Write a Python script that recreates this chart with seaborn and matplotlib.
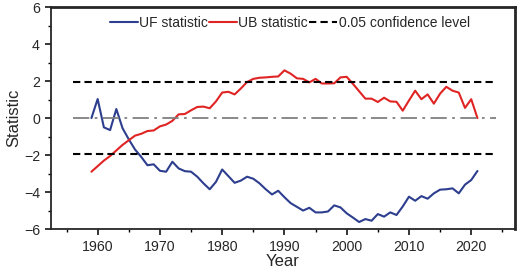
import matplotlib
matplotlib.use("Agg")
import matplotlib.pyplot as plt
from matplotlib.ticker import MultipleLocator
import numpy as np
import pandas as pd
import seaborn as sns

# --- data ---
years = list(range(1959, 2022))
uf = [0.00, 1.03, -0.50, -0.65, 0.49, -0.55, -1.15, -1.70, -2.10, -2.55,
      -2.50, -2.85, -2.90, -2.36, -2.72, -2.87, -2.90, -3.17, -3.53, -3.85,
      -3.45, -2.78, -3.14, -3.50, -3.38, -3.17, -3.28, -3.53, -3.85, -4.13,
      -3.93, -4.28, -4.60, -4.80, -5.00, -4.85, -5.10, -5.10, -5.05, -4.72,
      -4.83, -5.15, -5.38, -5.62, -5.46, -5.55, -5.19, -5.33, -5.10, -5.24,
      -4.78, -4.25, -4.47, -4.22, -4.36, -4.07, -3.87, -3.85, -3.80, -4.07,
      -3.60, -3.35, -2.86]
ub = [-2.90, -2.60, -2.30, -2.05, -1.75, -1.45, -1.20, -0.95, -0.85, -0.70,
      -0.67, -0.45, -0.35, -0.15, 0.20, 0.22, 0.42, 0.60, 0.62, 0.53,
      0.90, 1.38, 1.42, 1.28, 1.60, 1.95, 2.12, 2.18, 2.20, 2.23,
      2.25, 2.58, 2.40, 2.15, 2.12, 1.93, 2.12, 1.87, 1.87, 1.88,
      2.20, 2.23, 1.85, 1.45, 1.05, 1.05, 0.87, 1.10, 0.90, 0.88,
      0.40, 0.95, 1.48, 1.02, 1.28, 0.78, 1.32, 1.69, 1.48, 1.38,
      0.55, 1.02, 0.00]
conf_level = 1.96
line_span = [1956, 2024]

df = pd.DataFrame({"Year": years, "UF statistic": uf, "UB statistic": ub})
long = df.melt(id_vars="Year", var_name="series", value_name="Statistic")

sns.set_style("ticks")
plt.rcParams["font.family"] = ["Liberation Sans", "DejaVu Sans"]

fig = plt.figure(figsize=(5.2, 2.73), dpi=100)
ax = fig.add_axes([0.098, 0.161, 0.892, 0.813])

sns.lineplot(data=long, x="Year", y="Statistic", hue="series",
             palette={"UF statistic": "#2d3e8e", "UB statistic": "#e02424"},
             linewidth=1.5, ax=ax)

# confidence bounds and zero line
ax.plot(line_span, [conf_level, conf_level], color="black", lw=1.5,
        linestyle=(0, (3.5, 2)), label="0.05 confidence level")
ax.plot(line_span, [-conf_level, -conf_level], color="black", lw=1.5,
        linestyle=(0, (3.5, 2)))
ax.plot(line_span, [0, 0], color="#808080", lw=1.3,
        linestyle=(0, (9, 3, 1.5, 3)))

ax.set_xlim(1952.5, 2027)
ax.set_ylim(-6, 6)
ax.xaxis.set_major_locator(MultipleLocator(10))
ax.xaxis.set_minor_locator(MultipleLocator(5))
ax.yaxis.set_major_locator(MultipleLocator(2))
ax.yaxis.set_minor_locator(MultipleLocator(1))
ax.tick_params(which="major", direction="out", length=4.3, width=1.1,
               labelsize=10.2, color="black", pad=3.6)
ax.tick_params(which="minor", direction="out", length=2.2, width=1.0,
               color="black")
ax.set_xlabel("Year", fontsize=12, labelpad=0)
ax.set_ylabel("Statistic", fontsize=12, labelpad=2)

for side in ["left", "bottom"]:
    ax.spines[side].set_linewidth(1.3)
for side in ["top", "right"]:
    ax.spines[side].set_visible(True)
    ax.spines[side].set_linewidth(2.0)

handles, labels = ax.get_legend_handles_labels()
ax.legend(handles, labels, ncol=3, frameon=False, fontsize=10,
          loc="center", bbox_to_anchor=(0.515, 0.928),
          handlelength=2.0, handletextpad=0.1, columnspacing=0.1)

plt.savefig("out.png", dpi=100)
